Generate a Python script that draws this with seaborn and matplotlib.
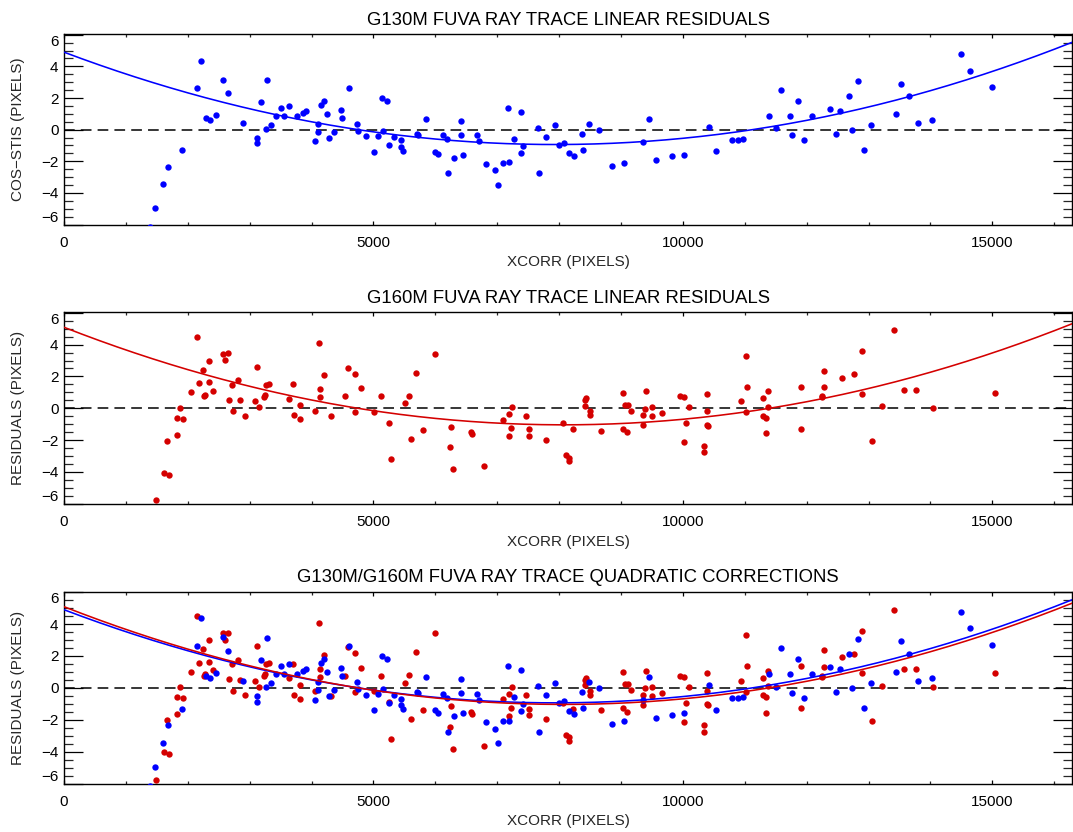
import numpy as np
import pandas as pd
import matplotlib
matplotlib.use("Agg")
import matplotlib.pyplot as plt
from matplotlib.ticker import MultipleLocator
import seaborn as sns

# ---------------- data ----------------
g130_x = [1388, 1469, 1598, 1673, 1910, 2157, 2217, 2287, 2362, 2448,
          2572, 2652, 2889, 3126, 3126, 3190, 3260, 3282, 3341, 3422,
          3507, 3550, 3631, 3766, 3863, 3917, 4056, 4105, 4110, 4158,
          4196, 4245, 4282, 4369, 4471, 4487, 4600, 4729, 4756,
          4875, 5015, 5068, 5138, 5154, 5219, 5246, 5327, 5440, 5450,
          5483, 5703, 5725, 5848, 5988, 6037, 6128, 6187, 6209, 6295,
          6419, 6419, 6446, 6671, 6698, 6817, 6957, 7016, 7097, 7188,
          7167, 7269, 7387, 7392, 7414, 7651, 7667, 7791, 7936, 7990,
          8076, 8162, 8243, 8366, 8393, 8490, 8646, 8861, 9044, 9362,
          9448, 9571, 9819, 10013,
          10416, 10529, 10793, 10895, 10976, 11395, 11503, 11589, 11723, 11766,
          11853, 11955, 12089, 12369, 12477, 12546, 12681, 12740, 12826, 12929,
          13047, 13450, 13520, 13655, 13800, 14021, 14494, 14634, 14994]
g130_y = [-6.15, -4.95, -3.43, -2.34, -1.31, 2.63, 4.36, 0.72, 0.63, 0.93,
          3.16, 2.29, 0.42, -0.53, -0.86, 1.75, 0.04, 3.14, 0.32, 0.86,
          1.39, 0.84, 1.52, 0.84, 1.03, 1.18, -0.74, 0.34, -0.13, 1.58,
          1.83, 0.99, -0.51, -0.15, 1.24, 0.76, 2.63, 0.38, -0.10,
          -0.42, -1.39, -0.40, 1.98, -0.06, 1.83, -0.95, -0.46, -0.67, -1.07,
          -1.33, -0.27, -0.32, 0.67, -1.41, -1.56, -0.36, -0.61, -2.76, -1.77,
          0.53, -0.32, -1.58, -0.36, -0.74, -2.15, -2.57, -3.47, -2.11, -2.06,
          1.37, -0.59, 1.14, -1.47, -1.03, 0.13, -2.74, -0.46, 0.32, -0.95,
          -0.84, -1.47, -1.66, -0.27, -1.28, 0.38, -0.04, -2.27, -2.08, -0.78,
          0.67, -1.92, -1.68, -1.58,
          0.15, -1.37, -0.63, -0.65, -0.59, 0.84, 0.08, 2.51, 0.84, -0.32,
          1.79, -0.63, 0.88, 1.31, -0.27, 1.20, 2.15, 0.00, 3.05, -1.28,
          0.29, 0.97, 2.91, 2.13, 0.40, 0.59, 4.76, 3.73, 2.67]

g160_x = [1480, 1619, 1657, 1695, 1829, 1829, 1872, 1921, 2055, 2147,
          2184, 2249, 2254, 2281, 2335, 2335, 2400, 2561, 2604, 2647,
          2674, 2722, 2733, 2814, 2851, 2921, 3083, 3126, 3147, 3228,
          3244, 3266, 3320, 3632, 3707, 3712, 3809, 3820, 4062, 4121,
          4132, 4137, 4207, 4309, 4535, 4594, 4702, 4708,
          4805, 5015, 5122, 5246, 5289, 5515, 5579, 5601, 5692, 5800,
          5999, 6230, 6247, 6284, 6569, 6591, 6779, 7086, 7183, 7183,
          7226, 7231, 7468, 7516, 7516, 7780, 8070, 8119, 8162, 8162,
          8221, 8415, 8442, 8415, 8501, 8501, 8678, 9033, 9060, 9119,
          9033, 9103, 9163, 9362, 9362, 9399, 9394, 9501, 9496, 9657,
          9953, 10018, 10018, 10056, 10099,
          10346, 10346, 10395, 10395, 10395, 10400, 10938, 11013, 11013, 11040,
          11293, 11293, 11341, 11341, 11379, 11379, 11906, 11906, 12240, 12240,
          12278, 12278, 12573, 12772, 12891, 12891, 13052, 13219, 13407, 13569,
          13762, 14047, 15037]
g160_y = [-5.78, -4.04, -2.03, -4.17, -1.65, -0.59, 0.04, -0.65, 1.01, 4.50,
          1.57, 2.43, 0.77, 0.86, 2.99, 1.65, 1.11, 3.43, 3.02, 3.46,
          0.54, 1.49, -0.17, 1.76, 0.52, -0.46, 0.44, 2.60, 0.08, 0.73,
          0.84, 1.49, 1.55, 0.59, 1.51, -0.44, 0.19, -0.69, -0.19, 4.08,
          0.71, 1.21, 2.09, -0.50, 0.77, 2.55, -0.23, 2.16,
          1.26, -0.21, 0.75, -0.90, -3.18, 0.31, 0.80, -1.93, 2.24, -1.38,
          3.41, -2.45, -1.15, -3.83, -1.51, -1.61, -3.64, -0.71, -0.36, -1.76,
          -1.24, 0.08, -0.46, -1.32, -1.72, -1.97, -0.94, -2.93, -3.10, -3.33,
          -1.30, 0.52, 0.63, 0.15, -0.17, -0.44, -1.42, 0.98, 0.23, 0.23,
          -1.28, -1.49, -0.15, -0.42, -1.07, 1.07, -0.04, 0.06, -0.48, -0.31,
          0.75, 0.71, -2.14, -0.92, 0.08,
          -2.35, -2.74, 0.92, -0.19, -1.03, -1.09, 0.44, 3.29, -0.23, 1.34,
          0.63, -0.46, -0.59, -1.55, 1.07, 0.10, 1.36, -1.28, 0.75, 0.69,
          2.37, 1.32, 1.93, 2.14, 3.58, 0.92, -2.07, 0.13, 4.90, 1.17,
          1.17, 0.04, 0.96]

# quadratic correction coefficients (c0, c1, c2)
g130_coef = [4.90, -1.4717e-3, 9.27e-8]
g160_coef = [5.09, -1.5184e-3, 9.405e-8]

titles = ["G130M FUVA RAY TRACE LINEAR RESIDUALS",
          "G160M FUVA RAY TRACE LINEAR RESIDUALS",
          "G130M/G160M FUVA RAY TRACE QUADRATIC CORRECTIONS"]
ylabels = ["COS\u2212STIS (PIXELS)", "RESIDUALS (PIXELS)", "RESIDUALS (PIXELS)"]
xlabel = "XCORR (PIXELS)"
xticks = [0, 5000, 10000, 15000]
yticks = [-6, -4, -2, 0, 2, 4, 6]

XMAX = 16290
BLUE = "#0000ff"
RED = "#d40000"

# ---------------- style ----------------
sns.set_theme(style="white")
plt.rcParams["font.family"] = ["Liberation Sans", "DejaVu Sans"]
plt.rcParams["axes.unicode_minus"] = True

fig = plt.figure(figsize=(10.73, 8.32), dpi=100)
W = 1073.0
H = 832.0
left = 64 / W
width = (1072.2 - 64) / W
panels = [(34.3, 225.0), (312.3, 504.3), (591.7, 784.0)]
axes = []
for top, bot in panels:
    axes.append(fig.add_axes([left, 1 - bot / H, width, (bot - top) / H]))

xgrid = np.linspace(0, XMAX, 400)

def quad(c, x):
    return c[0] + c[1] * x + c[2] * x ** 2

df130 = pd.DataFrame({"x": g130_x, "y": g130_y})
df160 = pd.DataFrame({"x": g160_x, "y": g160_y})
curve130 = pd.DataFrame({"x": xgrid, "y": quad(g130_coef, xgrid)})
curve160 = pd.DataFrame({"x": xgrid, "y": quad(g160_coef, xgrid)})

MS = 21
LW = 1.15

# panel 1
ax = axes[0]
sns.scatterplot(data=df130, x="x", y="y", color=BLUE, s=MS, linewidth=0, ax=ax, zorder=3)
sns.lineplot(data=curve130, x="x", y="y", color=BLUE, lw=LW, ax=ax, zorder=4)

# panel 2
ax = axes[1]
sns.scatterplot(data=df160, x="x", y="y", color=RED, s=MS, linewidth=0, ax=ax, zorder=3)
sns.lineplot(data=curve160, x="x", y="y", color=RED, lw=LW, ax=ax, zorder=4)

# panel 3
ax = axes[2]
sns.scatterplot(data=df160, x="x", y="y", color=RED, s=MS, linewidth=0, ax=ax, zorder=3)
sns.scatterplot(data=df130, x="x", y="y", color=BLUE, s=MS, linewidth=0, ax=ax, zorder=3)
sns.lineplot(data=curve130, x="x", y="y", color=BLUE, lw=LW, ax=ax, zorder=4)
sns.lineplot(data=curve160, x="x", y="y", color=RED, lw=LW, ax=ax, zorder=4)

for i, ax in enumerate(axes):
    ax.axhline(0, color="black", lw=1.1, ls=(0, (7, 4)), zorder=2)
    ax.set_xlim(0, XMAX)
    ax.set_ylim(-6.03, 6.03)
    ax.set_xticks(xticks)
    ax.set_xticklabels([str(v) for v in xticks])
    ax.set_yticks(yticks)
    ylabs = ax.set_yticklabels([str(v).replace("-", "\u2212") for v in yticks])
    ylabs[0].set_va("bottom")
    ylabs[-1].set_va("top")
    ax.xaxis.set_minor_locator(MultipleLocator(1000))
    ax.yaxis.set_minor_locator(MultipleLocator(0.5))
    ax.tick_params(axis="x", which="major", direction="in", top=True, bottom=True,
                   length=3.2, width=0.9, labelsize=11, pad=8, colors="black")
    ax.tick_params(axis="x", which="minor", direction="in", top=True, bottom=True,
                   length=2.4, width=0.9)
    ax.tick_params(axis="y", which="major", direction="in", left=True, right=True,
                   length=13.5, width=0.9, labelsize=11, pad=4, colors="black")
    ax.tick_params(axis="y", which="minor", direction="in", left=True, right=True,
                   length=6.8, width=0.9)
    for sp in ax.spines.values():
        sp.set_visible(True)
        sp.set_color("black")
        sp.set_linewidth(1.0)
    ax.set_xlabel(xlabel, fontsize=11, va="center")
    ax.xaxis.set_label_coords(0.5, -0.195)
    ax.set_ylabel(ylabels[i], fontsize=11, va="center")
    ax.yaxis.set_label_coords(-0.0455, 0.5)
    ax.set_title(titles[i], fontsize=13.3, pad=7, color="black")
    ax.grid(False)

fig.savefig("out.png", dpi=100)
